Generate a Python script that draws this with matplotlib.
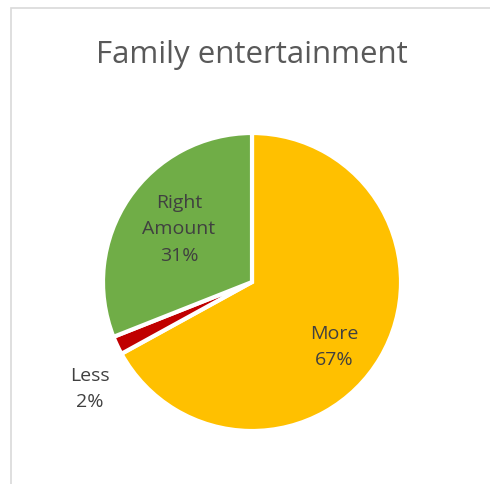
import matplotlib.pyplot as plt
from matplotlib.patches import Rectangle

# Pie data
labels = ['More', 'Less', 'Right\nAmount']
values = [67, 2, 31]
colors = ['#FFC000', '#C00000', '#70AD47']

# label anchor points (pie radius units), Excel-style placement
label_pos = [(0.55, -0.43), (-1.09, -0.71), (-0.49, 0.36)]

fig = plt.figure(figsize=(4.9, 4.85), dpi=100)
plt.rcParams['font.family'] = ['Open Sans', 'DejaVu Sans']

# light border of the chart area
fig.patches.append(Rectangle((11 / 490, -0.01), 1.0, 1 - 9 / 485 + 0.01,
                             transform=fig.transFigure, fill=False,
                             edgecolor='#D9D9D9', linewidth=1.2))

cx, cy, r = 252, 283, 149
ax = fig.add_axes([(cx - r) / 490, (485 - cy - r) / 485, 2 * r / 490, 2 * r / 485])
wedges, _ = ax.pie(values, colors=colors, startangle=90, counterclock=False,
                   radius=1, wedgeprops=dict(edgecolor='white', linewidth=3))
ax.set_xlim(-1, 1)
ax.set_ylim(-1, 1)
ax.set_aspect('equal')
ax.axis('off')

for lab, v, (x, y) in zip(labels, values, label_pos):
    ax.text(x, y, f'{lab}\n{v}%', ha='center', va='center', fontsize=14,
            color='#404040', linespacing=1.6)

fig.text(252 / 490, 1 - 63 / 485, 'Family entertainment', ha='center',
         va='baseline', fontsize=22.5, color='#595959')

fig.savefig('out.png', dpi=100)
